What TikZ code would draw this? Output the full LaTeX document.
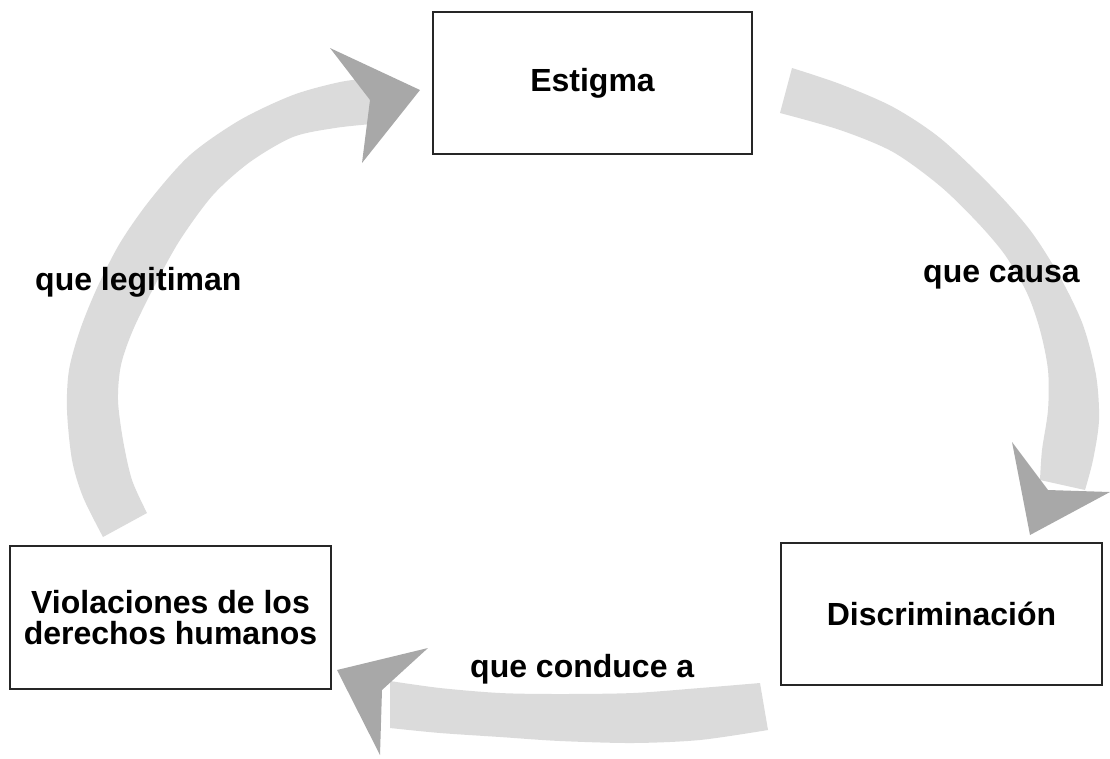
\documentclass[tikz,border=0pt]{standalone}
\usepackage{fontspec}
\setmainfont{Liberation Sans}
\begin{document}
\begin{tikzpicture}[x=1pt,y=-1pt,
  box/.style={draw=black!85, line width=1.3pt, fill=white, inner sep=0pt, align=center,
              font=\bfseries\fontsize{32}{31}\selectfont},
  lbl/.style={inner sep=0pt, anchor=base west, font=\bfseries\fontsize{32}{38}\selectfont},
  armbody/.style={fill=black!14},
  armhead/.style={fill=black!34}]
\useasboundingbox (0,0) rectangle (1110,758);

% arrow: Violaciones -> Estigma
\fill[armbody] plot[smooth] coordinates {(103,537) (83,497) (72,460) (67,410) (69,370) (80,330) (97,288) (120,243) (150,200) (190,155) (240,120) (293,95) (340,82) (372,78)}
  -- plot[smooth] coordinates {(372,124) (335,128) (293,137) (250,162) (213,195) (180,240) (155,285) (133,330) (121,365) (118,400) (123,440) (132,480) (147,513)} -- cycle;
\fill[armhead] (330,48) -- (420,90) -- (362,163) -- (370,100) -- cycle;

% arrow: Estigma -> Discriminacion
\fill[armbody] plot[smooth] coordinates {(792,68) (840,84) (893,107) (940,138) (990,185) (1030,230) (1060,277) (1083,325) (1096,375) (1099,420) (1093,460) (1085,490)}
  -- plot[smooth] coordinates {(1040,480) (1042,450) (1048,410) (1048,370) (1040,330) (1027,293) (1005,255) (977,222) (940,186) (893,152) (840,130) (780,113)} -- cycle;
\fill[armhead] (1012,442) -- (1030,535) -- (1110,492) -- (1048,490) -- cycle;

% arrow: Discriminacion -> Violaciones
\fill[armbody] plot[smooth] coordinates {(760,683) (700,688) (633,693) (560,694) (500,693) (440,688) (390,681)}
  -- plot[smooth] coordinates {(390,728) (440,733) (500,737) (560,741) (633,743) (700,740) (768,730)} -- cycle;
\fill[armhead] (428,648) -- (337,670) -- (380,755) -- (382,690) -- cycle;

% boxes
\node[box, minimum width=319pt, minimum height=142pt] (estigma) at (592.5,83) {Estigma};
\node[box, minimum width=321pt, minimum height=142pt] (discr) at (941.5,614) {Discriminación};
\node[box, minimum width=321pt, minimum height=143pt] (viol) at (170.5,617.5) {Violaciones de los\\derechos humanos};

% labels
\node[lbl] (l1) at (923,282) {que causa};
\node[lbl] (l2) at (470,677) {que conduce a};
\node[lbl] (l3) at (35,290) {que legitiman};
\end{tikzpicture}
\end{document}
